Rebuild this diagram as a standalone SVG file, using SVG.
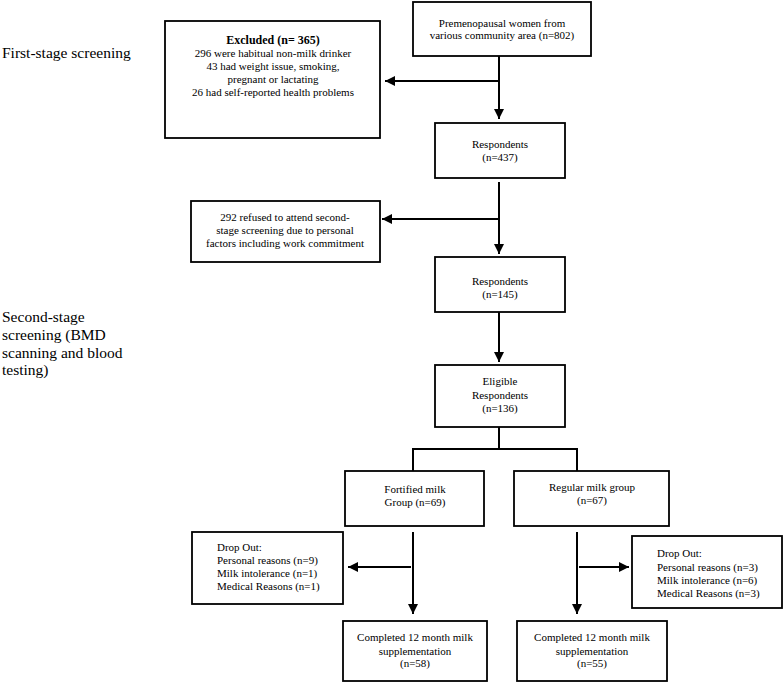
<svg xmlns="http://www.w3.org/2000/svg" width="784" height="683" viewBox="0 0 784 683" font-family="'Liberation Serif', 'Times New Roman', serif">
<defs>
<marker id="ah" viewBox="0 0 10 10" refX="10" refY="5" markerWidth="5" markerHeight="5" orient="auto" markerUnits="strokeWidth">
<path d="M0,0 L10,5 L0,10 z" fill="#000"/>
</marker>
</defs>
<style>
.b{font-size:11px;text-anchor:middle;font-family:'Liberation Serif',serif}
.l{font-size:11px;font-family:'Liberation Serif',serif}
.s{font-size:15.5px;font-family:'Liberation Serif',serif}
.box{fill:#fff;stroke:#000;stroke-width:1.8}
.c line,.c path{stroke:#000;stroke-width:2;fill:none}
.a{marker-end:url(#ah)}
</style>
<rect x="0" y="0" width="784" height="683" fill="#fff"/>
<g id="label-first">
<text class="s" x="2" y="58">First-stage screening</text>
</g>
<g id="label-second">
<text class="s" x="2" y="322">Second-stage</text>
<text class="s" x="2" y="340">screening (BMD</text>
<text class="s" x="2" y="358">scanning and blood</text>
<text class="s" x="2" y="375">testing)</text>
</g>
<g class="c" id="connectors">
<line x1="499" y1="56" x2="499" y2="119" class="a"/>
<line x1="499" y1="81" x2="385" y2="81" class="a"/>
<line x1="499" y1="182" x2="499" y2="254" class="a"/>
<line x1="499" y1="219" x2="382" y2="219" class="a"/>
<line x1="499" y1="312" x2="499" y2="362" class="a"/>
<path d="M499,427 V449 M413,471 V449 H577 V471"/>
<line x1="413" y1="532" x2="413" y2="614" class="a"/>
<line x1="411" y1="567" x2="348" y2="567" class="a"/>
<line x1="577" y1="532" x2="577" y2="614" class="a"/>
<line x1="579" y1="567" x2="629" y2="567" class="a"/>
</g>
<g id="n-start">
<rect class="box" x="413" y="2" width="178" height="54"/>
<text class="b" x="502" y="27">Premenopausal women from</text>
<text class="b" x="502" y="39">various community area (n=802)</text>
</g>
<g id="n-excluded">
<rect class="box" x="165" y="21" width="215" height="117"/>
<text class="b" x="273" y="44" font-weight="bold" style="font-size:12px">Excluded (n= 365)</text>
<text class="b" x="273" y="57">296 were habitual non-milk drinker</text>
<text class="b" x="273" y="70">43 had weight issue, smoking,</text>
<text class="b" x="273" y="83">pregnant or lactating</text>
<text class="b" x="273" y="96">26 had self-reported health problems</text>
</g>
<g id="n-resp437">
<rect class="box" x="435" y="123" width="130" height="55"/>
<text class="b" x="500" y="148">Respondents</text>
<text class="b" x="500" y="161">(n=437)</text>
</g>
<g id="n-refused">
<rect class="box" x="191" y="201" width="189" height="61"/>
<text class="b" x="285" y="221">292 refused to attend second-</text>
<text class="b" x="285" y="234">stage screening due to personal</text>
<text class="b" x="285" y="247">factors including work commitment</text>
</g>
<g id="n-resp145">
<rect class="box" x="435" y="257" width="130" height="55"/>
<text class="b" x="500" y="285">Respondents</text>
<text class="b" x="500" y="298">(n=145)</text>
</g>
<g id="n-eligible">
<rect class="box" x="435" y="365" width="130" height="62"/>
<text class="b" x="500" y="385">Eligible</text>
<text class="b" x="500" y="399">Respondents</text>
<text class="b" x="500" y="412">(n=136)</text>
</g>
<g id="n-fortified">
<rect class="box" x="345" y="471" width="139" height="55"/>
<text class="b" x="415" y="493">Fortified milk</text>
<text class="b" x="415" y="506">Group (n=69)</text>
</g>
<g id="n-regular">
<rect class="box" x="514" y="471" width="155" height="55"/>
<text class="b" x="592" y="491">Regular milk group</text>
<text class="b" x="592" y="504">(n=67)</text>
</g>
<g id="n-drop-left">
<rect class="box" x="192" y="532" width="151" height="72"/>
<text class="l" x="217" y="551">Drop Out:</text>
<text class="l" x="217" y="564">Personal reasons (n=9)</text>
<text class="l" x="217" y="577">Milk intolerance (n=1)</text>
<text class="l" x="217" y="590">Medical Reasons (n=1)</text>
</g>
<g id="n-drop-right">
<rect class="box" x="632" y="536" width="150" height="72"/>
<text class="l" x="657" y="557">Drop Out:</text>
<text class="l" x="657" y="571">Personal reasons (n=3)</text>
<text class="l" x="657" y="584">Milk intolerance (n=6)</text>
<text class="l" x="657" y="597">Medical Reasons (n=3)</text>
</g>
<g id="n-complete-left">
<rect class="box" x="343" y="621" width="144" height="60"/>
<text class="b" x="415" y="641">Completed 12 month milk</text>
<text class="b" x="415" y="655">supplementation</text>
<text class="b" x="415" y="667">(n=58)</text>
</g>
<g id="n-complete-right">
<rect class="box" x="517" y="621" width="150" height="60"/>
<text class="b" x="592" y="641">Completed 12 month milk</text>
<text class="b" x="592" y="655">supplementation</text>
<text class="b" x="592" y="667">(n=55)</text>
</g>
</svg>
